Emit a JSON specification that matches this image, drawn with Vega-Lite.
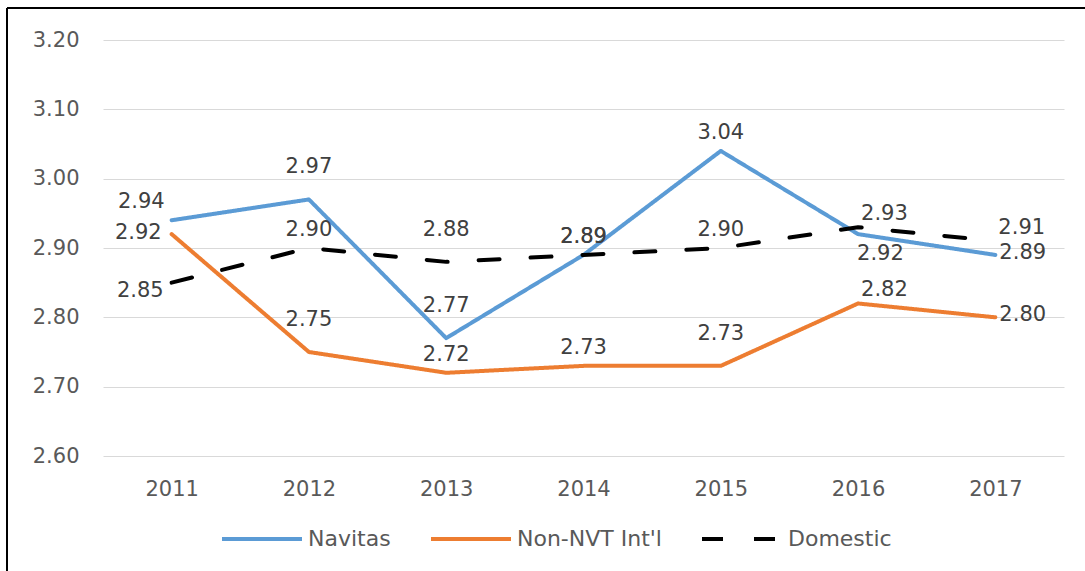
{
  "$schema": "https://vega.github.io/schema/vega-lite/v6.json",
  "autosize": {"type": "none"},
  "width": 1078,
  "height": 563,
  "padding": {"left": 7, "top": 8, "right": 0, "bottom": 0},
  "background": "white",
  "config": {
    "view": {"stroke": "#000000", "strokeWidth": 2, "strokeDash": [1078, 1641, 563, 0]},
    "font": "DejaVu Sans"
  },
  "data": {
    "values": [
      {"year": "2011", "series": "Navitas", "value": 2.94},
      {"year": "2012", "series": "Navitas", "value": 2.97},
      {"year": "2013", "series": "Navitas", "value": 2.77},
      {"year": "2014", "series": "Navitas", "value": 2.89},
      {"year": "2015", "series": "Navitas", "value": 3.04},
      {"year": "2016", "series": "Navitas", "value": 2.92},
      {"year": "2017", "series": "Navitas", "value": 2.89},
      {"year": "2011", "series": "Non-NVT Int'l", "value": 2.92},
      {"year": "2012", "series": "Non-NVT Int'l", "value": 2.75},
      {"year": "2013", "series": "Non-NVT Int'l", "value": 2.72},
      {"year": "2014", "series": "Non-NVT Int'l", "value": 2.73},
      {"year": "2015", "series": "Non-NVT Int'l", "value": 2.73},
      {"year": "2016", "series": "Non-NVT Int'l", "value": 2.82},
      {"year": "2017", "series": "Non-NVT Int'l", "value": 2.80},
      {"year": "2011", "series": "Domestic", "value": 2.85},
      {"year": "2012", "series": "Domestic", "value": 2.90},
      {"year": "2013", "series": "Domestic", "value": 2.88},
      {"year": "2014", "series": "Domestic", "value": 2.89},
      {"year": "2015", "series": "Domestic", "value": 2.90},
      {"year": "2016", "series": "Domestic", "value": 2.93},
      {"year": "2017", "series": "Domestic", "value": 2.91}
    ]
  },
  "encoding": {
    "x": {
      "field": "year", "type": "ordinal",
      "scale": {"type": "point", "padding": 0.5, "range": [96, 1057]},
      "axis": {"title": null, "labelAngle": 0, "domain": false, "ticks": false, "tickSize": 0, "grid": false,
               "offset": -115, "labelPadding": 22, "labelFontSize": 21, "labelColor": "#595959", "labelFont": "DejaVu Sans"}
    },
    "y": {
      "field": "value", "type": "quantitative",
      "scale": {"domain": [2.6, 3.2], "nice": false, "zero": false, "range": [448, 32]},
      "axis": {"title": null, "values": [2.6, 2.7, 2.8, 2.9, 3.0, 3.1, 3.2], "format": ".2f", "domain": false,
               "offset": -96, "ticks": false, "tickSize": 0, "labelPadding": 24, "labelFontSize": 21, "labelColor": "#595959",
               "labelFont": "DejaVu Sans", "gridColor": "#D9D9D9", "gridWidth": 1}
    }
  },
  "layer": [
    {
      "mark": {"type": "line", "strokeCap": "round", "strokeJoin": "round"},
      "encoding": {
        "color": {
          "field": "series", "type": "nominal",
          "scale": {"domain": ["Navitas", "Non-NVT Int'l", "Domestic"], "range": ["#5B9BD5", "#ED7D31", "#000000"]},
          "legend": {"title": null, "orient": "none", "direction": "horizontal", "legendX": 213, "legendY": 489,
                     "symbolType": "stroke", "symbolSize": 6400, "symbolStrokeWidth": 5, "labelFontSize": 22,
                     "labelColor": "#595959", "labelFont": "DejaVu Sans", "labelOffset": 4, "columnPadding": 32,
                     "padding": 0, "labelLimit": 400}
        },
        "strokeDash": {
          "field": "series", "type": "nominal",
          "scale": {"domain": ["Navitas", "Non-NVT Int'l", "Domestic"], "range": [[1, 0], [1, 0], [21, 31]]},
          "legend": {"title": null, "orient": "none", "direction": "horizontal", "legendX": 213, "legendY": 489,
                     "symbolType": "stroke", "symbolSize": 6400, "symbolStrokeWidth": 5, "labelFontSize": 22,
                     "labelColor": "#595959", "labelFont": "DejaVu Sans", "labelOffset": 4, "columnPadding": 32,
                     "padding": 0, "labelLimit": 400}
        },
        "strokeWidth": {
          "field": "series", "type": "ordinal",
          "scale": {"domain": ["Navitas", "Non-NVT Int'l", "Domestic"], "range": [4, 4, 6]},
          "legend": null
        }
      }
    },
    {
      "transform": [{"filter": "indexof(['Nav2014','Nav2015','Dom2012','Dom2014','Dom2015','Non2013','Non2014'], substring(datum.series,0,3)+datum.year) >= 0"}],
      "mark": {"type": "text", "align": "center", "baseline": "middle", "dy": -18, "fontSize": 21, "font": "DejaVu Sans", "color": "#404040"},
      "encoding": {"text": {"field": "value", "type": "quantitative", "format": ".2f"}}
    },
    {
      "transform": [{"filter": "indexof(['Nav2012','Nav2013','Non2012','Dom2013','Non2015'], substring(datum.series,0,3)+datum.year) >= 0"}],
      "mark": {"type": "text", "align": "center", "baseline": "middle", "dy": -32, "fontSize": 21, "font": "DejaVu Sans", "color": "#404040"},
      "encoding": {"text": {"field": "value", "type": "quantitative", "format": ".2f"}}
    },
    {
      "transform": [{"filter": "substring(datum.series,0,3)+datum.year == 'Nav2011'"}],
      "mark": {"type": "text", "align": "right", "baseline": "middle", "dx": -7, "dy": -18, "fontSize": 21, "font": "DejaVu Sans", "color": "#404040"},
      "encoding": {"text": {"field": "value", "type": "quantitative", "format": ".2f"}}
    },
    {
      "transform": [{"filter": "substring(datum.series,0,3)+datum.year == 'Non2011'"}],
      "mark": {"type": "text", "align": "right", "baseline": "middle", "dx": -10, "dy": -1, "fontSize": 21, "font": "DejaVu Sans", "color": "#404040"},
      "encoding": {"text": {"field": "value", "type": "quantitative", "format": ".2f"}}
    },
    {
      "transform": [{"filter": "substring(datum.series,0,3)+datum.year == 'Dom2011'"}],
      "mark": {"type": "text", "align": "right", "baseline": "middle", "dx": -8, "dy": 8, "fontSize": 21, "font": "DejaVu Sans", "color": "#404040"},
      "encoding": {"text": {"field": "value", "type": "quantitative", "format": ".2f"}}
    },
    {
      "transform": [{"filter": "indexof(['Dom2016','Dom2017','Non2016'], substring(datum.series,0,3)+datum.year) >= 0"}],
      "mark": {"type": "text", "align": "left", "baseline": "middle", "dx": 3, "dy": -13, "fontSize": 21, "font": "DejaVu Sans", "color": "#404040"},
      "encoding": {"text": {"field": "value", "type": "quantitative", "format": ".2f"}}
    },
    {
      "transform": [{"filter": "indexof(['Nav2017','Non2017'], substring(datum.series,0,3)+datum.year) >= 0"}],
      "mark": {"type": "text", "align": "left", "baseline": "middle", "dx": 4, "dy": -2, "fontSize": 21, "font": "DejaVu Sans", "color": "#404040"},
      "encoding": {"text": {"field": "value", "type": "quantitative", "format": ".2f"}}
    },
    {
      "transform": [{"filter": "substring(datum.series,0,3)+datum.year == 'Nav2016'"}],
      "mark": {"type": "text", "align": "left", "baseline": "middle", "dx": -1, "dy": 20, "fontSize": 21, "font": "DejaVu Sans", "color": "#404040"},
      "encoding": {"text": {"field": "value", "type": "quantitative", "format": ".2f"}}
    }
  ]
}
